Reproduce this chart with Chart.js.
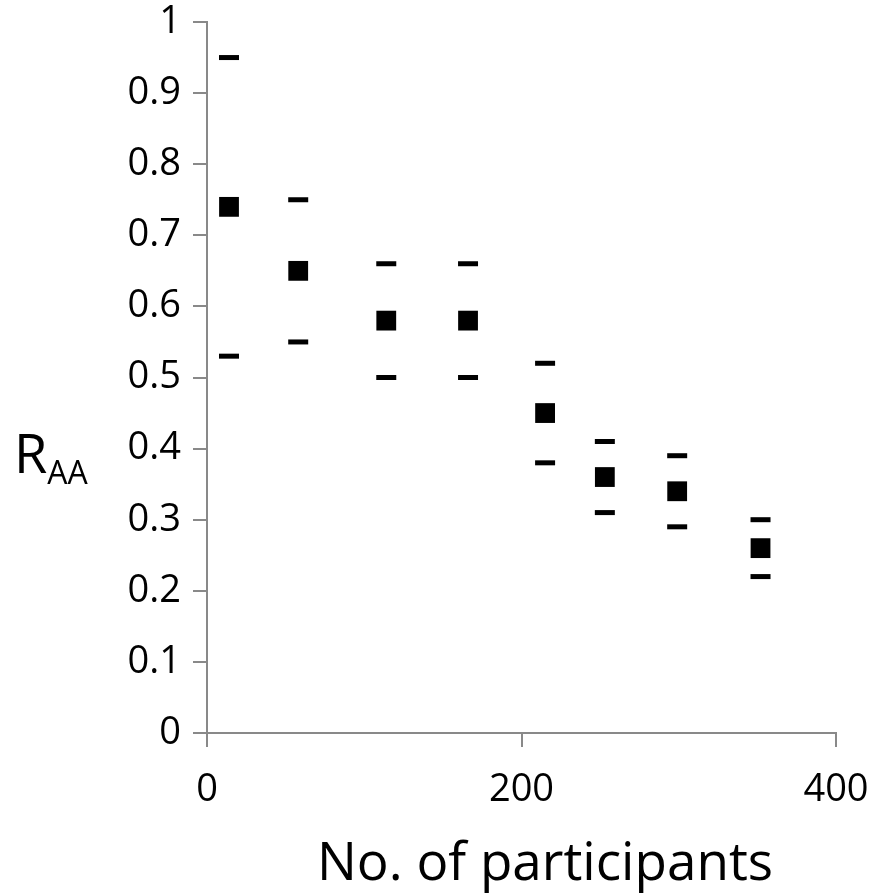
<!DOCTYPE html>
<html>
<head>
<meta charset="utf-8">
<script src="https://cdn.jsdelivr.net/npm/chart.js@4"></script>
<style>
  html, body { margin: 0; padding: 0; background: #fff; }
  #wrap { width: 884px; height: 896px; }
</style>
</head>
<body>
<div id="wrap"><canvas id="chart" width="884" height="896"></canvas></div>
<script>
// participants (x) and R_AA values
const participants = [14, 58, 114, 166, 215, 253, 299, 352]
const raa = [0.74, 0.65, 0.58, 0.58, 0.45, 0.36, 0.34, 0.26]
const raaUpper = [0.95, 0.75, 0.66, 0.66, 0.52, 0.41, 0.39, 0.30]
const raaLower = [0.53, 0.55, 0.50, 0.50, 0.38, 0.31, 0.29, 0.22]

const axisColor = '#898989'
const font = 'Open Sans'

const toPoints = ys => participants.map((x, i) => ({ x, y: ys[i] }))

// draws the two axis titles (R with AA subscript, x title)
const titles = {
    id: 'titles',
    afterDraw: chart => {
        const ctx = chart.ctx
        ctx.save()
        ctx.fillStyle = '#000'
        ctx.textBaseline = 'alphabetic'
        ctx.textAlign = 'left'
        ctx.font = `54px "${font}"`
        ctx.fillText('R', 14, 473)
        const w = ctx.measureText('R').width
        ctx.font = `32px "${font}"`
        ctx.fillText('AA', 14 + w, 484)
        ctx.textAlign = 'center'
        ctx.font = `53px "${font}"`
        ctx.fillText('No. of participants', 545, 880)
        ctx.restore()
    }
}

new Chart(document.getElementById('chart').getContext('2d'), {
    type: 'scatter',
    data: {
        datasets: [
            {
                data: toPoints(raa),
                pointStyle: 'rect',
                pointRadius: 14,
                backgroundColor: '#000',
                borderColor: '#000',
                borderWidth: 0
            },
            {
                data: toPoints(raaUpper),
                pointStyle: 'line',
                pointRadius: 10,
                borderColor: '#000',
                borderWidth: 5
            },
            {
                data: toPoints(raaLower),
                pointStyle: 'line',
                pointRadius: 10,
                borderColor: '#000',
                borderWidth: 5
            }
        ]
    },
    options: {
        responsive: false,
        animation: false,
        events: [],
        layout: { padding: { top: 22, right: 48, left: 0, bottom: 0 } },
        plugins: { legend: { display: false }, tooltip: { enabled: false } },
        scales: {
            x: {
                type: 'linear',
                min: 0,
                max: 400,
                afterFit: scale => {
                    scale.height = 163
                    scale.paddingLeft = 0
                    scale.paddingRight = 0
                },
                border: { color: axisColor, width: 2 },
                grid: { drawOnChartArea: false, drawTicks: true, tickLength: 14, color: axisColor, lineWidth: 2 },
                ticks: {
                    stepSize: 200,
                    color: '#000',
                    padding: 20,
                    maxRotation: 0,
                    font: { family: font, size: 38 }
                }
            },
            y: {
                min: 0,
                max: 1,
                afterFit: scale => {
                    scale.width = 207
                    scale.paddingTop = 0
                    scale.paddingBottom = 0
                },
                border: { color: axisColor, width: 2 },
                grid: { drawOnChartArea: false, drawTicks: true, tickLength: 14, color: axisColor, lineWidth: 2 },
                ticks: {
                    stepSize: 0.1,
                    color: '#000',
                    padding: 12,
                    font: { family: font, size: 38 },
                    callback: v => String(Math.round(v * 10) / 10)
                }
            }
        }
    },
    plugins: [titles]
})
</script>
</body>
</html>
